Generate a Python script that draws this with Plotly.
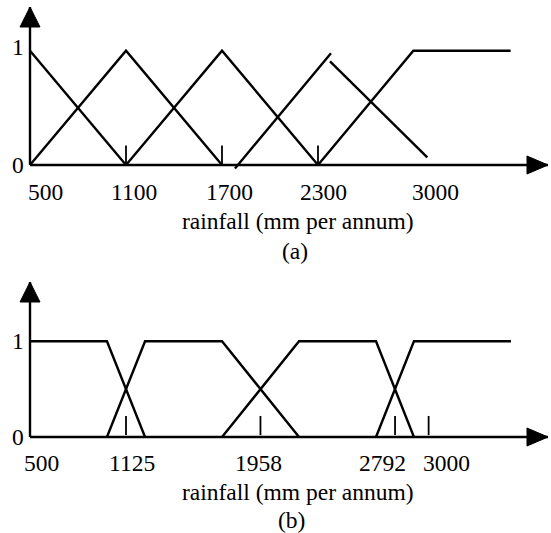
import plotly.graph_objects as go

# ---------------- data ----------------
# (a) membership functions: breakpoints (rainfall, mm/yr) and membership degree
a_mf1_x = [500, 1100]
a_mf1_y = [1, 0]
a_mf2_x = [500, 1100, 1700]
a_mf2_y = [0, 1, 0]
a_mf3_x = [1100, 1700, 2300]
a_mf3_y = [0, 1, 0]
a_mf4_x = [1781, 2381]
a_mf4_y = [-0.03, 0.977]
a_mf5_x = [2375, 2983]
a_mf5_y = [0.907, 0.067]
a_mf6_x = [2300, 2896, 3504]
a_mf6_y = [0, 1, 1]
a_tick_vals = [1100, 1700, 2300]
a_label_vals = [500, 1100, 1700, 2300, 3000]
a_label_text = ["500", "1100", "1700", "2300", "3000"]

# (b) trapezoidal membership functions
b_mf1_x = [531, 1007, 1243]
b_mf1_y = [1, 1, 0]
b_mf2_x = [1007, 1243, 1720, 2197]
b_mf2_y = [0, 1, 1, 0]
b_mf3_x = [1720, 2197, 2674, 2909]
b_mf3_y = [0, 1, 1, 0]
b_mf4_x = [2674, 2909, 3510]
b_mf4_y = [0, 1, 1]
b_tick_vals = [1125, 1958, 2792, 3000]
b_label_vals = [500, 1125, 1958, 2792, 3000]
b_label_text = ["500", "1125", "1958", "2792", "3000"]

x_title = "rainfall (mm per annum)"
y_levels = [0, 1]

# ---------------- layout geometry ----------------
W, H = 551, 533
FONT = "Liberation Serif"
FS = 23.5
LW = 2.4

fig = go.Figure()

def add_lines(xs, ys, xa, ya):
    fig.add_trace(go.Scatter(x=xs, y=ys, mode="lines", xaxis=xa, yaxis=ya,
                             line=dict(color="black", width=LW),
                             hoverinfo="skip", showlegend=False))

# panel (a)
for xs, ys in [(a_mf1_x, a_mf1_y), (a_mf2_x, a_mf2_y), (a_mf3_x, a_mf3_y),
               (a_mf4_x, a_mf4_y), (a_mf5_x, a_mf5_y), (a_mf6_x, a_mf6_y)]:
    add_lines(xs, ys, "x", "y")
# panel (b)
for xs, ys in [(b_mf1_x, b_mf1_y), (b_mf2_x, b_mf2_y),
               (b_mf3_x, b_mf3_y), (b_mf4_x, b_mf4_y)]:
    add_lines(xs, ys, "x2", "y2")

# small vertical tick marks
def add_ticks(vals, top, bottom, xa, ya):
    xs, ys = [], []
    for v in vals:
        xs += [v, v, None]
        ys += [bottom, top, None]
    fig.add_trace(go.Scatter(x=xs, y=ys, mode="lines", xaxis=xa, yaxis=ya,
                             line=dict(color="black", width=1.8),
                             hoverinfo="skip", showlegend=False))

add_ticks(a_tick_vals, 0.17, 0, "x", "y")
add_ticks(b_tick_vals, 0.22, 0.02, "x2", "y2")

# axes: pixel scale -> data ranges
# panel (a): 500 mm at px 30, 0.16 px/mm ; y: 0 at py 165, 1 at py 50
a_sx, a_x0px, a_x0 = 0.16, 30, 500
a_sy, a_y0py = 114.3, 165
# panel (b): 1125 mm at px 126, 0.1614 px/mm ; y: 0 at py 437, 1 at py 341
b_sx, b_x0px, b_x0 = 0.1614, 126, 1125
b_sy, b_y0py = 95.7, 437

def xr(sx, x0px, x0):
    return [x0 - x0px / sx, x0 + (W - x0px) / sx]

a_top, a_bot = 0, 178
b_top, b_bot = 268, 450

axis_common = dict(showgrid=False, zeroline=False, showticklabels=False,
                   ticks="", showline=False, fixedrange=True)
fig.update_layout(
    width=W, height=H, autosize=False,
    margin=dict(l=0, r=0, t=0, b=0),
    paper_bgcolor="white", plot_bgcolor="white",
    showlegend=False,
    font=dict(family=FONT, size=FS, color="black"),
    xaxis=dict(domain=[0, 1], range=xr(a_sx, a_x0px, a_x0), anchor="y", **axis_common),
    yaxis=dict(domain=[1 - a_bot / H, 1 - a_top / H],
               range=[-(a_bot - a_y0py) / a_sy, (a_y0py - a_top) / a_sy],
               anchor="x", **axis_common),
    xaxis2=dict(domain=[0, 1], range=xr(b_sx, b_x0px, b_x0), anchor="y2", **axis_common),
    yaxis2=dict(domain=[1 - b_bot / H, 1 - b_top / H],
                range=[-(b_bot - b_y0py) / b_sy, (b_y0py - b_top) / b_sy],
                anchor="x2", **axis_common),
)

# axis lines with arrowheads
def axis_with_arrows(xref, yref, x_origin, x_tip, y_tip):
    fig.add_shape(type="line", xref=xref, yref=yref, x0=x_origin, y0=0, x1=x_tip, y1=0,
                  line=dict(color="black", width=LW), layer="above")
    fig.add_shape(type="line", xref=xref, yref=yref, x0=x_origin, y0=0, x1=x_origin, y1=y_tip,
                  line=dict(color="black", width=LW), layer="above")
    # x arrowhead
    fig.add_shape(type="path", xref=xref, yref=yref, xsizemode="pixel", ysizemode="pixel",
                  xanchor=x_tip, yanchor=0, path="M 0,0 L -21,9 L -21,-9 Z",
                  fillcolor="black", line=dict(color="black", width=1), layer="above")
    # y arrowhead
    fig.add_shape(type="path", xref=xref, yref=yref, xsizemode="pixel", ysizemode="pixel",
                  xanchor=x_origin, yanchor=y_tip, path="M 0,0 L -10,-20 L 10,-20 Z",
                  fillcolor="black", line=dict(color="black", width=1), layer="above")

axis_with_arrows("x", "y", a_x0 + (30 - a_x0px) / a_sx, a_x0 + (548 - a_x0px) / a_sx,
                 (a_y0py - 7) / a_sy)
axis_with_arrows("x2", "y2", b_x0 + (30 - b_x0px) / b_sx, b_x0 + (548 - b_x0px) / b_sx,
                 (b_y0py - 282) / b_sy)

anns = []
# tick labels
a_shifts = [15, 8, 7, 5, 5]
for v, t, s in zip(a_label_vals, a_label_text, a_shifts):
    anns.append(dict(x=v, y=0, xref="x", yref="y", text=t, showarrow=False,
                     xanchor="center", yanchor="middle", xshift=s, yshift=-27))
b_shifts = [16, 6, -2, -13, 18]
for v, t, s in zip(b_label_vals, b_label_text, b_shifts):
    anns.append(dict(x=v, y=0, xref="x2", yref="y2", text=t, showarrow=False,
                     xanchor="center", yanchor="middle", xshift=s, yshift=-26))
# y labels 0 / 1
a_orig = a_x0 + (30 - a_x0px) / a_sx
b_orig = b_x0 + (30 - b_x0px) / b_sx
for lv in y_levels:
    anns.append(dict(x=a_orig, y=lv, xref="x", yref="y", text=str(lv), showarrow=False,
                     xanchor="right", yanchor="middle", xshift=-4, yshift=4 if lv else 0))
    anns.append(dict(x=b_orig, y=lv, xref="x2", yref="y2", text=str(lv), showarrow=False,
                     xanchor="right", yanchor="middle", xshift=-4, yshift=0))
# titles
anns.append(dict(x=298 / W, y=1 - 221 / H, xref="paper", yref="paper", text=x_title,
                 showarrow=False, xanchor="center", yanchor="middle"))
anns.append(dict(x=295 / W, y=1 - 251 / H, xref="paper", yref="paper", text="(a)",
                 showarrow=False, xanchor="center", yanchor="middle"))
anns.append(dict(x=298 / W, y=1 - 492 / H, xref="paper", yref="paper", text=x_title,
                 showarrow=False, xanchor="center", yanchor="middle"))
anns.append(dict(x=291 / W, y=1 - 520 / H, xref="paper", yref="paper", text="(b)",
                 showarrow=False, xanchor="center", yanchor="middle"))
fig.update_layout(annotations=anns)

fig.write_html("out.html", config={"displayModeBar": False},
               post_script="document.body.style.margin='0';document.body.style.overflow='hidden';")
